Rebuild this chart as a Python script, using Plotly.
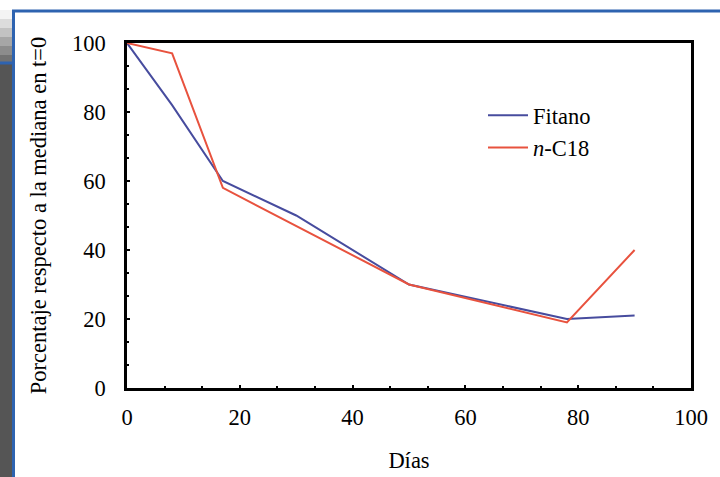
import plotly.graph_objects as go

dias_fitano = [0, 8, 17, 30, 50, 78, 90]
fitano = [100, 82, 60, 50, 30, 20, 21]
dias_c18 = [0, 8, 17, 50, 78, 90]
c18 = [100, 97, 58, 30, 19, 40]

W, H = 720, 477
L, R, T, B = 127, 691, 43, 388

def px(x):
    return (x - L) / (R - L)

def py(y):
    return (B - y) / (B - T)

FONT = "Liberation Serif, Times New Roman, serif"
FS = 22.5

fig = go.Figure()
fig.add_trace(go.Scatter(x=dias_fitano, y=fitano, mode="lines", name="Fitano",
                         line=dict(color="#474C9E", width=2)))
fig.add_trace(go.Scatter(x=dias_c18, y=c18, mode="lines", name="<i>n</i>-C18",
                         line=dict(color="#E8523E", width=2)))

axis_common = dict(showgrid=False, zeroline=False, showline=True, linecolor="black",
                   linewidth=2.5, mirror=True, ticks="inside", ticklen=3, tickwidth=2,
                   tickcolor="black", tickfont=dict(family=FONT, size=FS, color="black"),
                   automargin=False,
                   minor=dict(dtick=20/3, ticks="inside", ticklen=2, tickwidth=1.5,
                              tickcolor="black"))

fig.update_xaxes(range=[0, 100], dtick=20, tick0=0, ticklabelstandoff=7, **axis_common,
                 title=dict(text="Días", font=dict(family=FONT, size=FS, color="black"),
                            standoff=24))
fig.update_yaxes(range=[0, 100], dtick=20, tick0=0, ticklabelstandoff=14, **axis_common,
                 title=dict(text="Porcentaje respecto a la mediana en t=0",
                            font=dict(family=FONT, size=FS, color="black"), standoff=20))

shapes = []
# left gray shadow strip
grays = ["#f4f4f4", "#dcdcdc", "#c2c2c2", "#a6a6a6", "#8c8c8c", "#727272"]
y0 = 10
step = 9
for i, g in enumerate(grays):
    shapes.append(dict(type="rect", xref="paper", yref="paper", x0=px(0), x1=px(12),
                       y0=py(y0 + (i + 1) * step), y1=py(y0 + i * step),
                       fillcolor=g, line=dict(width=0), layer="below"))
shapes.append(dict(type="rect", xref="paper", yref="paper", x0=px(0), x1=px(12),
                   y0=py(H), y1=py(64), fillcolor="#555555", line=dict(width=0), layer="below"))
# blue frame lines
blue = "#2E63B0"
shapes.append(dict(type="line", xref="paper", yref="paper", x0=px(13.5), x1=px(13.5),
                   y0=py(10), y1=py(H), line=dict(color=blue, width=3)))
shapes.append(dict(type="line", xref="paper", yref="paper", x0=px(12), x1=px(W),
                   y0=py(11), y1=py(11), line=dict(color=blue, width=3)))
shapes.append(dict(type="line", xref="paper", yref="paper", x0=px(0), x1=px(13),
                   y0=py(63), y1=py(63), line=dict(color=blue, width=3)))

fig.update_layout(
    width=W, height=H,
    margin=dict(l=L, r=W - R, t=T, b=H - B, autoexpand=False),
    paper_bgcolor="white", plot_bgcolor="white",
    font=dict(family=FONT, size=FS, color="black"),
    showlegend=True,
    legend=dict(x=px(483), y=py(94), xanchor="left", yanchor="top",
                bgcolor="rgba(0,0,0,0)", font=dict(family=FONT, size=FS, color="black"),
                tracegroupgap=0, itemwidth=40),
    shapes=shapes,
)

fig.write_html("out.html", config={"displayModeBar": False},
               post_script="document.body.style.margin='0';")
